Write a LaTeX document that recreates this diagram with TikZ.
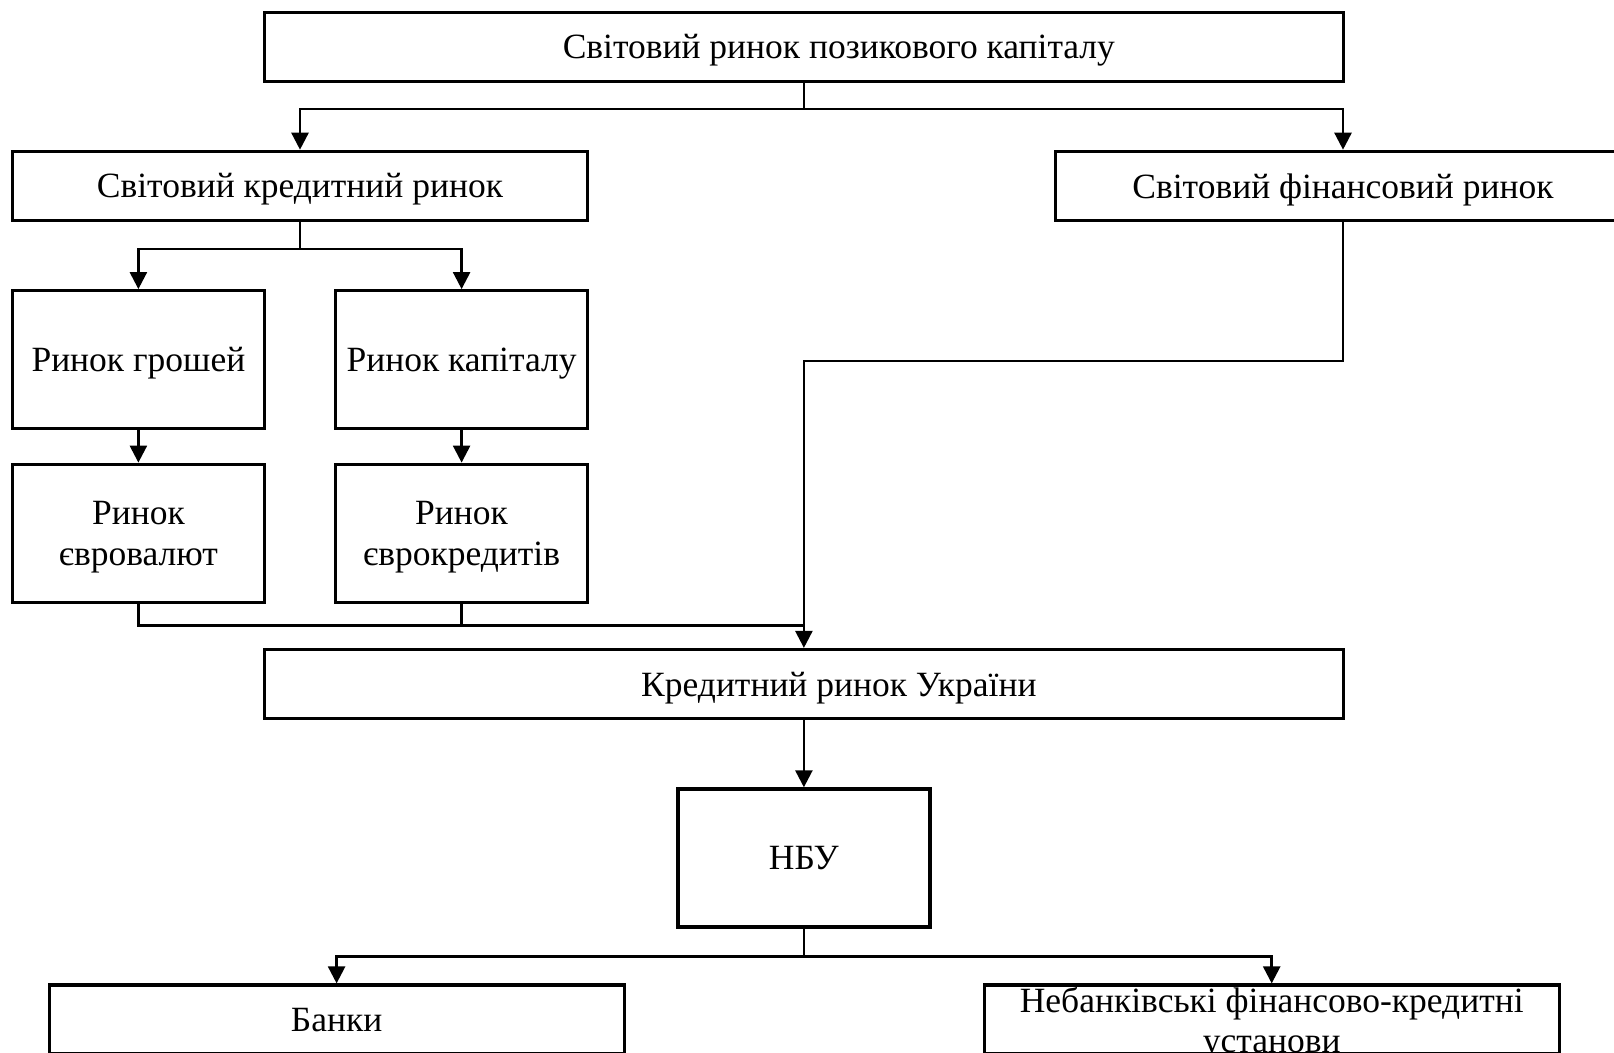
\documentclass[tikz,border=0pt]{standalone}
\usepackage{fontspec}
\setmainfont{Liberation Serif}
\usetikzlibrary{arrows.meta}
\begin{document}
\begin{tikzpicture}[x=1pt,y=-1pt,
  box/.style={draw, line width=3.2pt, inner sep=0pt, align=center,
    text depth=0pt, font=\fontsize{35.5}{41}\selectfont},
  wide/.style={box, minimum width=1079pt, minimum height=69pt},
  mid/.style={box, minimum width=575pt, minimum height=69pt},
  small/.style={box, minimum width=252pt, minimum height=138pt},
  conn/.style={line width=2.5pt},
  arr/.style={conn, -{Triangle[length=17pt,width=17pt]}}]
\useasboundingbox (0,0) rectangle (1614,1052);
\clip (0,0) rectangle (1614,1052);
\fill[white] (0,0) rectangle (1614,1052);
\node[wide] (top) at (803.9,46.8) {\hspace*{70pt}Світовий ринок позикового капіталу};
\node[mid] (kred) at (300,185.8) {Світовий кредитний ринок};
\node[mid] (fin) at (1343,185.8) {Світовий фінансовий ринок};
\node[small] (gr) at (138.4,359.7) {Ринок грошей};
\node[small] (kap) at (461.6,359.7) {Ринок капіталу};
\node[small] (evr) at (138.4,533.2) {Ринок\\євровалют};
\node[small] (evk) at (461.6,533.2) {Ринок\\єврокредитів};
\node[wide] (ukr) at (803.9,684) {\hspace*{70pt}Кредитний ринок України};
\node[small] (nbu) at (803.9,857.9) {НБУ};
\node[mid] (bank) at (336.6,1019.5) {Банки};
\node[mid, font=\fontsize{35.5}{40}\selectfont] (neb) at (1271.7,1019.5) {Небанківські фінансово-кредитні\\установи};
% connectors
\draw[conn] (top.south) -- ++(0,26) coordinate (b1);
\draw[arr] (b1) -| (kred.north);
\draw[arr] (b1) -| (fin.north);
\draw[conn] (kred.south) -- ++(0,27) coordinate (b2);
\draw[arr] (b2) -| (gr.north);
\draw[arr] (b2) -| (kap.north);
\draw[arr] (gr.south) -- (evr.north);
\draw[arr] (kap.south) -- (evk.north);
\draw[arr] (fin.south) -- ++(0,139) -| (ukr.north);
\draw[conn] (evr.south) -- ++(0,21.7) coordinate (c1) -- (c1 -| ukr.north);
\draw[conn] (evk.south) -- (evk.south |- c1);
\draw[arr] (ukr.south) -- (nbu.north);
\draw[conn] (nbu.south) -- ++(0,27.8) coordinate (b3);
\draw[arr] (b3) -| (bank.north);
\draw[arr] (b3) -| (neb.north);
\end{tikzpicture}
\end{document}
